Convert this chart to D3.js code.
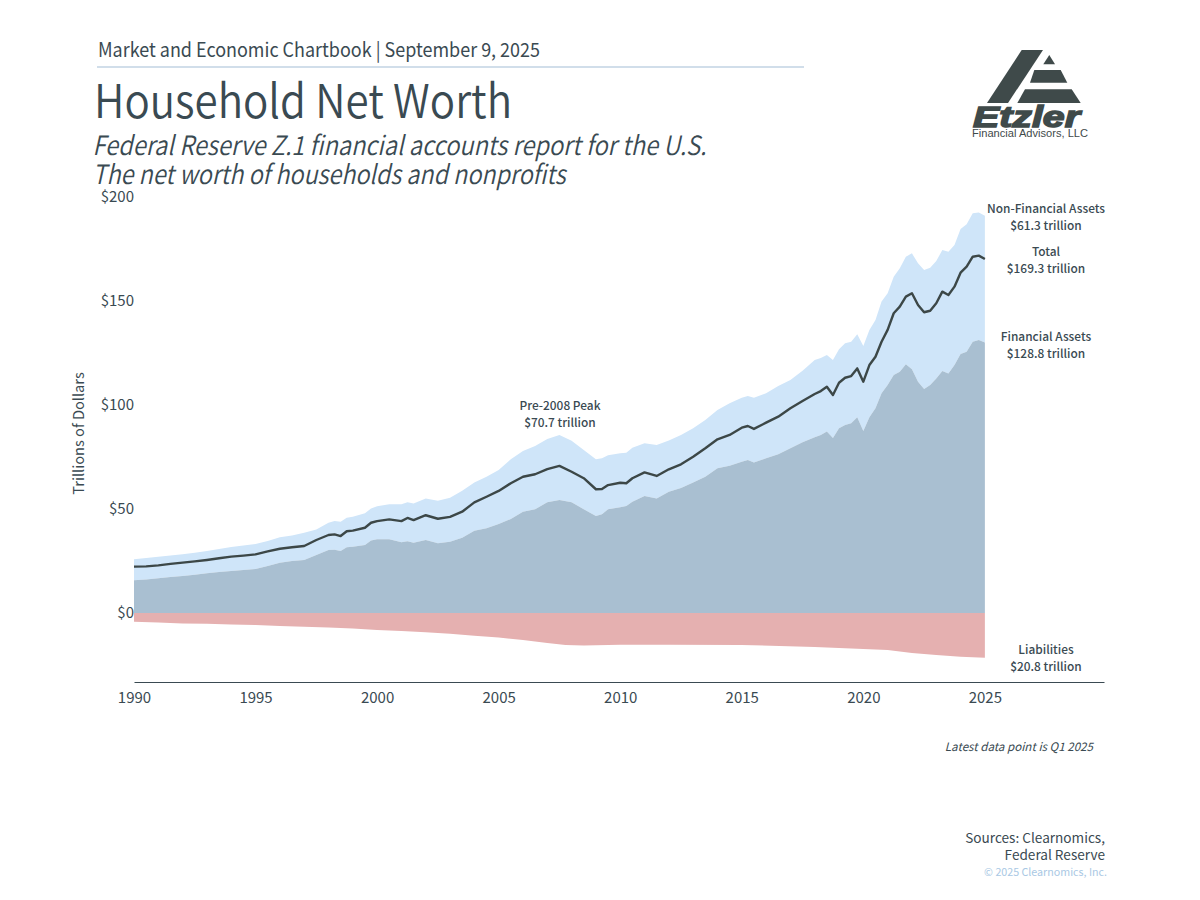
<!DOCTYPE html>
<html><head><meta charset="utf-8">
<script src="https://cdn.jsdelivr.net/npm/d3@7/dist/d3.min.js"></script>
<style>
html,body{margin:0;padding:0;background:#fff}
svg{display:block}
text{font-family:"Noto Sans CJK SC","Noto Sans",sans-serif;fill:#3a4a52}
</style></head><body>
<svg id="chart" width="1200" height="900"></svg>
<script>
const dates=[1990,1990.5,1991,1991.5,1992,1992.5,1993,1993.5,1994,1994.5,1995,1995.5,1996,1996.5,1997,1997.5,1998,1998.25,1998.5,1998.75,1999,1999.5,1999.75,2000,2000.5,2001,2001.25,2001.5,2002,2002.5,2003,2003.5,2004,2004.5,2005,2005.5,2006,2006.5,2007,2007.5,2008,2008.5,2009,2009.25,2009.5,2010,2010.25,2010.5,2011,2011.5,2012,2012.5,2013,2013.5,2014,2014.5,2015,2015.25,2015.5,2016,2016.5,2017,2017.5,2018,2018.25,2018.5,2018.75,2019,2019.25,2019.5,2019.75,2020,2020.25,2020.5,2020.75,2021,2021.25,2021.5,2021.75,2022,2022.25,2022.5,2022.75,2023,2023.25,2023.5,2023.75,2024,2024.25,2024.5,2024.75,2025];
const totalAssets=[25.8,26.4,27.1,27.6,28.2,29.0,29.8,30.8,31.7,32.5,33.2,34.6,36.4,37.3,38.6,40.2,43.4,44.2,43.9,45.8,46.3,47.9,50.3,51.3,52.3,52.3,53.2,52.7,55.1,54.0,55.4,58.8,62.8,65.5,68.8,73.9,77.9,80.3,83.7,85.6,82.8,78.4,73.9,74.4,75.8,76.8,77.1,79.5,81.6,80.8,82.9,85.6,88.8,92.8,97.6,100.8,103.5,104.3,103.5,105.6,109.1,112,116.5,121.6,122.6,124,121.6,126.8,129.7,130.4,134,128.4,136.1,140.9,149.7,153.7,161.7,165.7,171.3,172.9,168.1,164.9,166,169.2,174.5,173.7,176.9,184.6,186.9,192.2,192.6,191];
const netWorth=[22.3,22.4,22.9,23.6,24.2,24.8,25.5,26.3,27.1,27.6,28.2,29.6,30.9,31.6,32.2,35.1,37.5,37.8,37.0,39.3,39.6,41.0,43.4,44.2,45.0,44.2,45.7,44.7,47.0,45.3,46.2,48.7,53.2,55.9,58.7,62.4,65.5,66.7,69.2,70.7,67.9,64.8,59.5,59.6,61.5,62.6,62.4,64.8,67.6,65.9,69.1,71.5,75.1,79.2,83.5,85.6,89.1,89.9,88.5,91.5,94.4,98.4,101.9,105.3,106.7,108.8,104.8,110.7,113.1,113.9,117.6,111.2,119.2,123.2,130.4,136.1,144.1,147.3,152.1,153.7,148.1,144.6,145.3,148.9,154.5,152.9,156.9,163.6,166.5,171.3,171.8,170.2];
const financialAssets=[15.7,16.1,16.7,17.3,17.8,18.4,19.1,19.7,20.2,20.7,21.2,22.6,24.2,25.0,25.5,27.9,30.3,30.4,29.8,31.6,31.9,32.7,34.8,35.4,35.4,34.0,34.5,33.8,35.1,33.5,34.3,36.2,39.6,40.7,42.8,45.2,48.7,49.9,53.2,54.3,53.2,49.9,46.6,47.5,49.9,50.8,51.4,53.5,56.3,55.0,58.3,60.1,62.8,65.5,69.6,70.8,72.7,73.6,72.3,74.4,76.3,79.2,82.1,84.5,85.6,87.2,84.1,88.8,90.4,91.2,94.1,87.5,94.1,98.4,105.6,109.6,114.4,116,119.6,117.2,111.2,107.7,109.6,112.8,116.3,115.2,119.2,124.5,125.6,130.4,131.3,130];
const liabilityDates=[1990,1991,1992,1993,1994,1995,1996,1997,1998,1999,2000,2001,2002,2003,2004,2005,2006,2007,2007.75,2008.5,2010,2012,2015,2018,2020,2021,2022,2023,2024,2025];
const liabilities=[4.2,4.6,5.0,5.2,5.5,5.8,6.2,6.6,7.0,7.5,8.2,8.7,9.3,10,10.9,11.8,13,14.4,15.4,15.6,15.3,15.3,15.4,16.3,17.3,17.8,19.2,20.2,21,21.5];
const yTicks=[0,50,100,150,200];
const xTicks=[1990,1995,2000,2005,2010,2015,2020,2025];
const annotations=[["Non-Financial Assets",1046,207],["$61.3 trillion",1046,224],["Total",1046,250],["$169.3 trillion",1046,267],["Financial Assets",1046,335],["$128.8 trillion",1046,352],["Liabilities",1046,648],["$20.8 trillion",1046,665],["Pre-2008 Peak",560,404],["$70.7 trillion",560,421]];

const svg=d3.select("#chart");
const x=d3.scaleLinear().domain([1990,2029.9]).range([134,1104]);
const y=d3.scaleLinear().domain([0,200]).range([613,197]);

function txt(s,px,py,size,opts={}){
  const t=svg.append("text").attr("x",px).attr("y",py).attr("font-size",size).text(s);
  t.style("dominant-baseline",opts.base||"central");
  if(opts.anchor)t.attr("text-anchor",opts.anchor);
  if(opts.italic)t.style("font-style","italic");
  if(opts.weight)t.style("font-weight",opts.weight);
  if(opts.fill)t.style("fill",opts.fill);
  if(opts.len)t.attr("textLength",opts.len).attr("lengthAdjust","spacingAndGlyphs");
  return t;
}

// header
txt("Market and Economic Chartbook | September 9, 2025",98,48,19.5,{len:442});
svg.append("line").attr("x1",97).attr("x2",804).attr("y1",67).attr("y2",67).attr("stroke","#a3bdd6").attr("stroke-width",1.2);
txt("Household Net Worth",94,97.5,47,{weight:350,len:418});
txt("Federal Reserve Z.1 financial accounts report for the U.S.",92.5,143.5,26.5,{italic:true,weight:350,len:614});
txt("The net worth of households and nonprofits",92.5,172.5,26.5,{italic:true,weight:350,len:473});

// logo
const logoFill="#3f4a4a";
[[[1021.7,50],[1043,50],[1008,103],[987,103]],
 [[1049.3,55],[1055,64.3],[1043.3,64.3]],
 [[1034.3,70],[1060.7,70],[1067.3,82.7],[1030,82.7]],
 [[1025,89.3],[1071.7,89.3],[1080.7,103],[1017.3,103]]
].forEach(p=>svg.append("polygon").attr("points",p.join(" ")).attr("fill",logoFill));
svg.append("text").attr("x",973).attr("y",127).attr("font-size",29)
  .style("font-family","Liberation Sans").style("font-weight",700).style("font-style","italic")
  .style("fill",logoFill).attr("stroke",logoFill).attr("stroke-width",1.4)
  .attr("textLength",107).attr("lengthAdjust","spacingAndGlyphs").text("Etzler");
svg.append("text").attr("x",972).attr("y",136.5).attr("font-size",11.5)
  .style("font-family","Liberation Sans").style("fill","#3f4a4a")
  .attr("textLength",116).attr("lengthAdjust","spacingAndGlyphs").text("Financial Advisors, LLC");

// areas
const idx=d3.range(dates.length);
svg.append("path").attr("fill","#cfe5f9")
  .attr("d",d3.area().x(i=>x(dates[i])).y0(i=>y(financialAssets[i])).y1(i=>y(totalAssets[i]))(idx));
svg.append("path").attr("fill","#a9bfd1")
  .attr("d",d3.area().x(i=>x(dates[i])).y0(y(0)).y1(i=>y(financialAssets[i]))(idx));
svg.append("path").attr("fill","#e5b0b0")
  .attr("d",d3.area().x(i=>x(liabilityDates[i])).y0(y(0)).y1(i=>y(-liabilities[i]))(d3.range(liabilityDates.length)));
svg.append("path").attr("fill","none").attr("stroke","#3c4747").attr("stroke-width",2.4).attr("stroke-linejoin","round")
  .attr("d",d3.line().x(i=>x(dates[i])).y(i=>y(netWorth[i]))(idx));

// axes
const gy=svg.append("g").attr("transform","translate(134,-2)")
  .call(d3.axisLeft(y).tickValues(yTicks).tickSize(0).tickPadding(0).tickFormat(d=>"$"+d));
gy.select(".domain").remove();
gy.selectAll("text").attr("font-size",15).attr("dy",null).style("dominant-baseline","central");
const gx=svg.append("g").attr("transform","translate(0,682)")
  .call(d3.axisBottom(x).tickValues(xTicks).tickSize(0).tickPadding(0).tickFormat(d3.format("d")));
gx.select(".domain").attr("stroke","#3a4a52").attr("stroke-width",1.2);
gx.selectAll("text").attr("font-size",15).attr("y",14).attr("dy",null).style("dominant-baseline","central");
gx.attr("font-family",null);gy.attr("font-family",null);

txt("Trillions of Dollars",77,433.5,14.6,{anchor:"middle"}).attr("transform","rotate(-90 77 433.5)");

// annotations
annotations.forEach(a=>txt(a[0],a[1],a[2],11.9,{anchor:"middle",weight:500}));

// footer
txt("Latest data point is Q1 2025",1093,746,11.6,{anchor:"end",italic:true});
txt("Sources: Clearnomics,",1105,837,13.6,{anchor:"end"});
txt("Federal Reserve",1105,854,13.6,{anchor:"end"});
txt("© 2025 Clearnomics, Inc.",1107,871,10.7,{anchor:"end",fill:"#a9c8e4"});
</script></body></html>
